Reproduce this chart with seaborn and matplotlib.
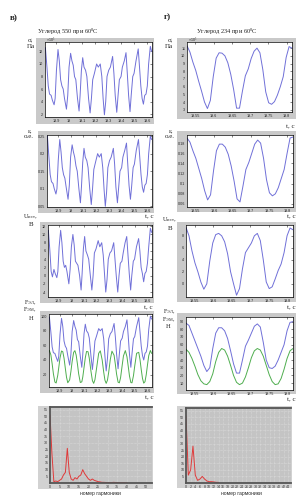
import matplotlib
matplotlib.use('Agg')
import matplotlib.pyplot as plt
import seaborn as sns
from matplotlib.patches import Rectangle
from matplotlib.ticker import FormatStrFormatter

# ---------------- data ----------------
# left column (Углерод 550)
t_left = [18.818, 18.830, 18.840, 18.850, 18.862, 18.872, 18.885, 18.893, 18.903, 18.915,
          18.925, 18.935, 18.945, 18.955, 18.965, 18.980, 18.990, 19.000, 19.012, 19.022,
          19.032, 19.042, 19.052, 19.065, 19.077, 19.085, 19.095, 19.105, 19.115, 19.127,
          19.137, 19.150, 19.162, 19.172, 19.182, 19.195, 19.212, 19.225, 19.240, 19.252,
          19.262, 19.272, 19.282, 19.292, 19.305, 19.318, 19.335, 19.345, 19.355, 19.367,
          19.377, 19.387, 19.400, 19.410, 19.425, 19.438, 19.448, 19.458, 19.469, 19.478,
          19.490, 19.500, 19.515, 19.532, 19.542, 19.552, 19.562, 19.572, 19.582, 19.592,
          19.602, 19.612, 19.625, 19.635]
sigma_left = [12.6, 9.5, 6.5, 5.2, 5.0, 4.2, 3.5, 4.5, 9.0, 12.3,
              10.5, 7.5, 6.5, 6.0, 4.5, 2.8, 5.0, 9.5, 11.7, 10.5,
              9.8, 8.0, 7.5, 4.5, 2.5, 5.0, 9.0, 11.0, 9.5, 9.0,
              8.0, 4.5, 2.2, 4.5, 7.5, 8.5, 10.0, 9.5, 10.0, 8.0,
              4.5, 1.9, 4.0, 8.0, 9.0, 9.5, 11.2, 8.5, 5.0, 2.3,
              5.0, 7.5, 8.0, 9.5, 10.5, 11.8, 8.5, 5.0, 2.4, 5.0,
              8.0, 8.5, 10.5, 12.4, 9.5, 6.5, 4.5, 3.6, 5.0, 5.2,
              6.5, 10.0, 12.8, 12.0]
eps_left = [0.250, 0.190, 0.140, 0.120, 0.115, 0.100, 0.085, 0.100, 0.180, 0.240,
            0.205, 0.160, 0.140, 0.130, 0.105, 0.070, 0.110, 0.190, 0.225, 0.205,
            0.190, 0.165, 0.150, 0.100, 0.060, 0.105, 0.175, 0.215, 0.190, 0.180,
            0.160, 0.100, 0.055, 0.100, 0.155, 0.175, 0.200, 0.190, 0.200, 0.160,
            0.100, 0.050, 0.090, 0.160, 0.180, 0.190, 0.215, 0.170, 0.105, 0.060,
            0.105, 0.150, 0.160, 0.190, 0.210, 0.230, 0.170, 0.110, 0.070, 0.105,
            0.160, 0.170, 0.210, 0.240, 0.190, 0.140, 0.105, 0.090, 0.110, 0.115,
            0.140, 0.200, 0.250, 0.240]
u_left = [11.0, 6.0, 1.0, -0.3, 1.5, 0.5, -0.5, 1.0, 7.0, 11.0,
          8.0, 3.5, 2.0, 2.5, 1.0, -2.0, 1.5, 7.0, 10.0, 7.5,
          3.5, 3.0, 2.5, 0.0, -3.5, 0.5, 6.5, 9.5, 6.0, 5.0,
          4.0, 0.0, -3.5, 0.0, 5.5, 6.5, 8.5, 7.0, 8.0, 5.0,
          0.5, -4.0, -1.0, 4.0, 5.5, 6.0, 8.0, 4.0, 0.0, -4.0,
          0.0, 3.0, 3.5, 5.5, 8.0, 9.5, 5.0, 0.5, -3.5, 0.0,
          3.5, 4.0, 7.0, 9.0, 6.0, 2.0, 0.5, -1.5, 0.5, 1.0,
          3.0, 7.0, 11.5, 10.5]
fel_left = [99, 78, 58, 50, 49, 44, 38, 45, 75, 97,
            86, 66, 59, 56, 46, 33, 48, 79, 94, 86,
            81, 68, 65, 45, 30, 48, 76, 89, 80, 77,
            70, 46, 27, 45, 66, 73, 83, 80, 83, 69,
            45, 25, 42, 69, 76, 79, 90, 72, 48, 28,
            48, 66, 70, 79, 86, 95, 73, 48, 30, 48,
            69, 72, 86, 98, 79, 59, 46, 40, 49, 51,
            59, 82, 100, 96]
fem_left = [53, 47, 35, 21.3, 9.8, 8.5, 19, 29.6, 42.9, 52.3,
            51.4, 42.6, 29.2, 16.3, 8.8, 12.8, 24.2, 38, 50.5, 52.8,
            46.8, 34.8, 21, 9.2, 10, 16.8, 29.8, 43, 51.7, 51.3,
            42.3, 24.9, 11.6, 8, 13, 28.5, 49.2, 52.5, 39.9, 23.5,
            12.3, 8, 12.3, 23.3, 41, 52.1, 46.5, 34.3, 20.6, 9.6,
            8.7, 15.9, 33, 45.6, 52.9, 44.3, 31.4, 18.2, 9.1, 8.7,
            18.6, 31.8, 49.2, 50.5, 40.7, 26.9, 14.7, 8.3, 10.3, 19.9,
            33.4, 46, 53, 49]

# right column (Углерод 234)
t_right = [19.527, 19.535, 19.543, 19.551, 19.559, 19.567, 19.575, 19.583, 19.591, 19.599,
           19.607, 19.615, 19.623, 19.631, 19.639, 19.647, 19.655, 19.663, 19.671, 19.679,
           19.687, 19.695, 19.703, 19.711, 19.719, 19.727, 19.735, 19.743, 19.751, 19.759,
           19.767, 19.775, 19.783, 19.791, 19.799, 19.807, 19.815]
sigma_right = [11.3, 10.5, 9.2, 8.1, 6.7, 5.4, 4.0, 3.15, 4.2, 7.3,
               9.7, 10.4, 10.35, 10.0, 9.1, 7.6, 5.6, 3.2, 3.2, 5.4,
               7.4, 8.3, 9.65, 10.6, 11.0, 10.4, 8.2, 5.3, 3.9, 3.7,
               4.05, 4.9, 6.0, 7.3, 9.8, 11.2, 11.0]
eps_right = [0.190, 0.182, 0.165, 0.150, 0.130, 0.110, 0.086, 0.068, 0.078, 0.125,
             0.165, 0.178, 0.178, 0.172, 0.158, 0.135, 0.105, 0.070, 0.064, 0.095,
             0.128, 0.142, 0.160, 0.178, 0.186, 0.180, 0.150, 0.108, 0.082, 0.076,
             0.080, 0.092, 0.110, 0.128, 0.160, 0.190, 0.192]
u_right = [9.4, 8.0, 5.5, 3.5, 2.0, 0.3, -0.9, 0.0, 3.8, 6.8,
           8.2, 8.4, 8.0, 7.0, 5.0, 2.0, 0.0, -1.9, -0.8, 2.5,
           5.2, 6.0, 6.8, 8.0, 8.4, 7.2, 4.0, 0.3, -0.8, -0.5,
           0.8, 2.2, 3.3, 5.2, 8.0, 9.3, 9.0]
fel_right = [88, 85, 75, 65, 55, 45, 33, 25, 30, 55,
             75, 82, 82, 78, 68, 52, 35, 23, 23, 40,
             58, 66, 75, 84, 87, 83, 63, 40, 30, 29,
             32, 40, 50, 60, 78, 89, 90]
fem_right = [54, 50, 42, 32, 21, 13, 9, 8, 12, 22,
             38, 50, 55, 53, 45, 33, 20, 11, 8, 10,
             18, 30, 43, 52, 55, 53, 45, 33, 21, 12,
             8, 9, 16, 28, 42, 52, 55]

# spectra
n_left = list(range(0, 41))
amp_left = [51, 22, 1, 1.5, 1, 2, 3, 6, 8, 26,
            8, 3, 2, 4, 3, 5, 6, 10, 7, 5,
            3, 2, 3, 2, 1.5, 1, 0.8, 0.5, 0.5, 0.4,
            0.3, 0.3, 0.3, 0.5, 0.4, 0.3, 0.2, 0.2, 0.2, 0.1, 0.1]
n_right = list(range(0, 15))
amp_right = [51, 6, 10, 28, 6, 2, 3, 5, 3, 1.5, 1, 1, 0.8, 0.5, 0.5]

title_left = "Углерод 550 при 60$^0$С"
title_right = "Углерод 234 при 60$^0$С"
xt_left = [18.9, 19.0, 19.1, 19.2, 19.3, 19.4, 19.5, 19.6]
xt_right = [19.55, 19.6, 19.65, 19.7, 19.75, 19.8]

# ---------------- style ----------------
sns.set_style('white')
plt.rcParams['font.family'] = ['Liberation Serif', 'DejaVu Serif']
plt.rcParams['mathtext.fontset'] = 'custom'
plt.rcParams['mathtext.rm'] = 'Liberation Serif'
plt.rcParams['mathtext.it'] = 'Liberation Serif:italic'
plt.rcParams['mathtext.bf'] = 'Liberation Serif:bold'

W, H = 308, 503
fig = plt.figure(figsize=(W / 100, H / 100), dpi=100)
fig.patch.set_facecolor('white')

BLUE = '#7070d8'
GREEN = '#4fae4f'
RED = '#e03a3a'
GRAY = '#c9c9c9'


def box(x0, y0, x1, y1):
    return [x0 / W, 1 - y1 / H, (x1 - x0) / W, (y1 - y0) / H]


def frame(x0, y0, x1, y1, color=GRAY):
    fig.add_artist(Rectangle((x0 / W, 1 - y1 / H), (x1 - x0) / W, (y1 - y0) / H,
                             transform=fig.transFigure, facecolor=color,
                             edgecolor='none', zorder=-10))


def ftext(x, y, s, size=5, ha='center', va='center', **kw):
    fig.text(x / W, 1 - y / H, s, fontsize=size, ha=ha, va=va, **kw)


def mpanel(rect, xlim, ylim, xticks, yticks):
    ax = fig.add_axes(box(*rect))
    ax.set_facecolor('white')
    ax.set_xlim(xlim)
    ax.set_ylim(ylim)
    ax.set_xticks(xticks)
    ax.set_yticks(yticks)
    ax.xaxis.set_major_formatter(FormatStrFormatter('%g'))
    ax.yaxis.set_major_formatter(FormatStrFormatter('%g'))
    ax.tick_params(direction='in', length=1.5, width=0.4, labelsize=2.7, pad=1.2,
                   top=True, right=True, labelfontfamily='Liberation Sans')
    for s in ax.spines.values():
        s.set_linewidth(0.5)
        s.set_color('black')
    return ax


def draw(ax, x, y, color=BLUE):
    sns.lineplot(x=x, y=y, ax=ax, color=color, linewidth=0.7, estimator=None, sort=False)
    ax.set_xlabel('')
    ax.set_ylabel('')


def spanel(rect, xlim, xticks, n, amp):
    ax = fig.add_axes(box(*rect))
    ax.set_facecolor('#c4c4c4')
    ax.set_xlim(xlim)
    ax.set_ylim(0, 57)
    ax.set_xticks(xticks)
    ax.set_yticks([5, 10, 15, 20, 25, 30, 35, 40, 45, 50, 55])
    ax.grid(True, color='#e6e6e6', linestyle=(0, (1, 1.5)), linewidth=0.4)
    ax.tick_params(length=0, labelsize=2.6, pad=1.2, labelfontfamily='Liberation Sans',
                   colors='#333333')
    for k in ['top', 'left', 'bottom']:
        ax.spines[k].set_color('#555555')
        ax.spines[k].set_linewidth(1.3)
    ax.spines['right'].set_visible(False)
    sns.lineplot(x=n, y=amp, ax=ax, color=RED, linewidth=0.7, estimator=None, sort=False)
    ax.set_xlabel('')
    ax.set_ylabel('')
    return ax


# ---------------- left column ----------------
ftext(14, 18, 'в)', size=6.5, weight='bold')
ftext(68, 31.5, title_left, size=4.6)

frame(36, 38, 154, 124)
ax = mpanel((45, 42, 152, 117), (18.815, 19.638), (1.55, 13.5), xt_left, [2, 4, 6, 8, 10, 12])
draw(ax, t_left, sigma_left)
ftext(46, 40.3, '×10$^5$', size=2.6, ha='left', family='Liberation Sans')
ftext(31, 40, 'σ,', size=5)
ftext(31, 46.5, 'Па', size=5)

frame(38, 131, 154, 213)
ax = mpanel((47, 135, 152, 207), (18.815, 19.638), (0.048, 0.253), xt_left,
            [0.05, 0.1, 0.15, 0.2, 0.25])
draw(ax, t_left, eps_left)
ftext(30, 130.5, 'ε,', size=5)
ftext(29, 136.5, 'о.е.', size=5)
ftext(149, 217, 't, с', size=5)

frame(40, 222, 154, 303)
ax = mpanel((48, 225, 152, 297), (18.815, 19.638), (-5.2, 12.3), xt_left,
            [-4, -2, 0, 2, 4, 6, 8, 10, 12])
draw(ax, t_left, u_left)
ftext(30, 216.5, 'U$_{\\mathrm{ист}}$,', size=4.6)
ftext(31, 225, 'В', size=5)
ftext(148, 308, 't, с', size=5)

frame(40, 311, 154, 393)
ax = mpanel((49, 314, 152, 387), (18.815, 19.638), (3, 103), xt_left, [20, 40, 60, 80, 100])
draw(ax, t_left, fel_left, BLUE)
draw(ax, t_left, fem_left, GREEN)
ftext(30, 302.5, 'F$_{\\mathrm{ЭЛ}}$,', size=4.3)
ftext(30, 310, 'F$_{\\mathrm{ЭМ}}$,', size=4.3)
ftext(31, 318, 'Н', size=4.8)
ftext(149, 398, 't, с', size=5)

frame(38, 406, 153, 489, '#d2d2d2')
spanel((50, 407, 152, 483), (0, 53), [0, 5, 10, 15, 20, 25, 30, 35, 40, 45, 50], n_left, amp_left)
ftext(100, 493, 'номер гармоники', size=3.6, family='Liberation Sans')

# ---------------- right column ----------------
ftext(167, 17, 'г)', size=6.5, weight='bold')
ftext(227, 31.5, title_right, size=4.6)

frame(177, 38, 296, 119)
ax = mpanel((187, 42, 292, 112), (19.527, 19.815), (2.7, 11.8), xt_right,
            [3, 4, 5, 6, 7, 8, 9, 10, 11])
draw(ax, t_right, sigma_right)
ftext(188, 40.3, '×10$^5$', size=2.6, ha='left', family='Liberation Sans')
ftext(170, 40, 'σ,', size=5)
ftext(169, 46.5, 'Па', size=5)
ftext(290, 127, 't, с', size=5)

frame(177, 131, 296, 212)
ax = mpanel((187, 135, 293, 207), (19.527, 19.815), (0.054, 0.196), xt_right,
            [0.06, 0.08, 0.1, 0.12, 0.14, 0.16, 0.18])
draw(ax, t_right, eps_right)
ftext(171, 130.5, 'ε,', size=5)
ftext(170, 136.5, 'о.е.', size=5)
ftext(291, 217, 't, с', size=5)

frame(177, 222, 296, 302)
ax = mpanel((186, 225, 293, 297), (19.527, 19.815), (-2.2, 9.8), xt_right, [0, 2, 4, 6, 8])
draw(ax, t_right, u_right)
ftext(169, 219.5, 'U$_{\\mathrm{ист}}$,', size=4.6)
ftext(170, 228, 'В', size=5)
ftext(291, 308, 't, с', size=5)

frame(177, 313, 296, 394)
ax = mpanel((186, 317, 293, 390), (19.527, 19.815), (1, 96), xt_right,
            [10, 20, 30, 40, 50, 60, 70, 80, 90])
draw(ax, t_right, fel_right, BLUE)
draw(ax, t_right, fem_right, GREEN)
ftext(169, 312, 'F$_{\\mathrm{ЭЛ}}$,', size=4.3)
ftext(169, 319.5, 'F$_{\\mathrm{ЭМ}}$,', size=4.3)
ftext(168, 327, 'Н', size=4.8)
ftext(291, 400, 't, с', size=5)

frame(177, 406, 292, 488, '#d2d2d2')
spanel((186, 408, 291, 483), (0, 45.2), list(range(0, 45, 2)), n_right, amp_right)
ftext(241, 493, 'номер гармоники', size=3.6, family='Liberation Sans')

fig.savefig('out.png', dpi=100, facecolor='white')
